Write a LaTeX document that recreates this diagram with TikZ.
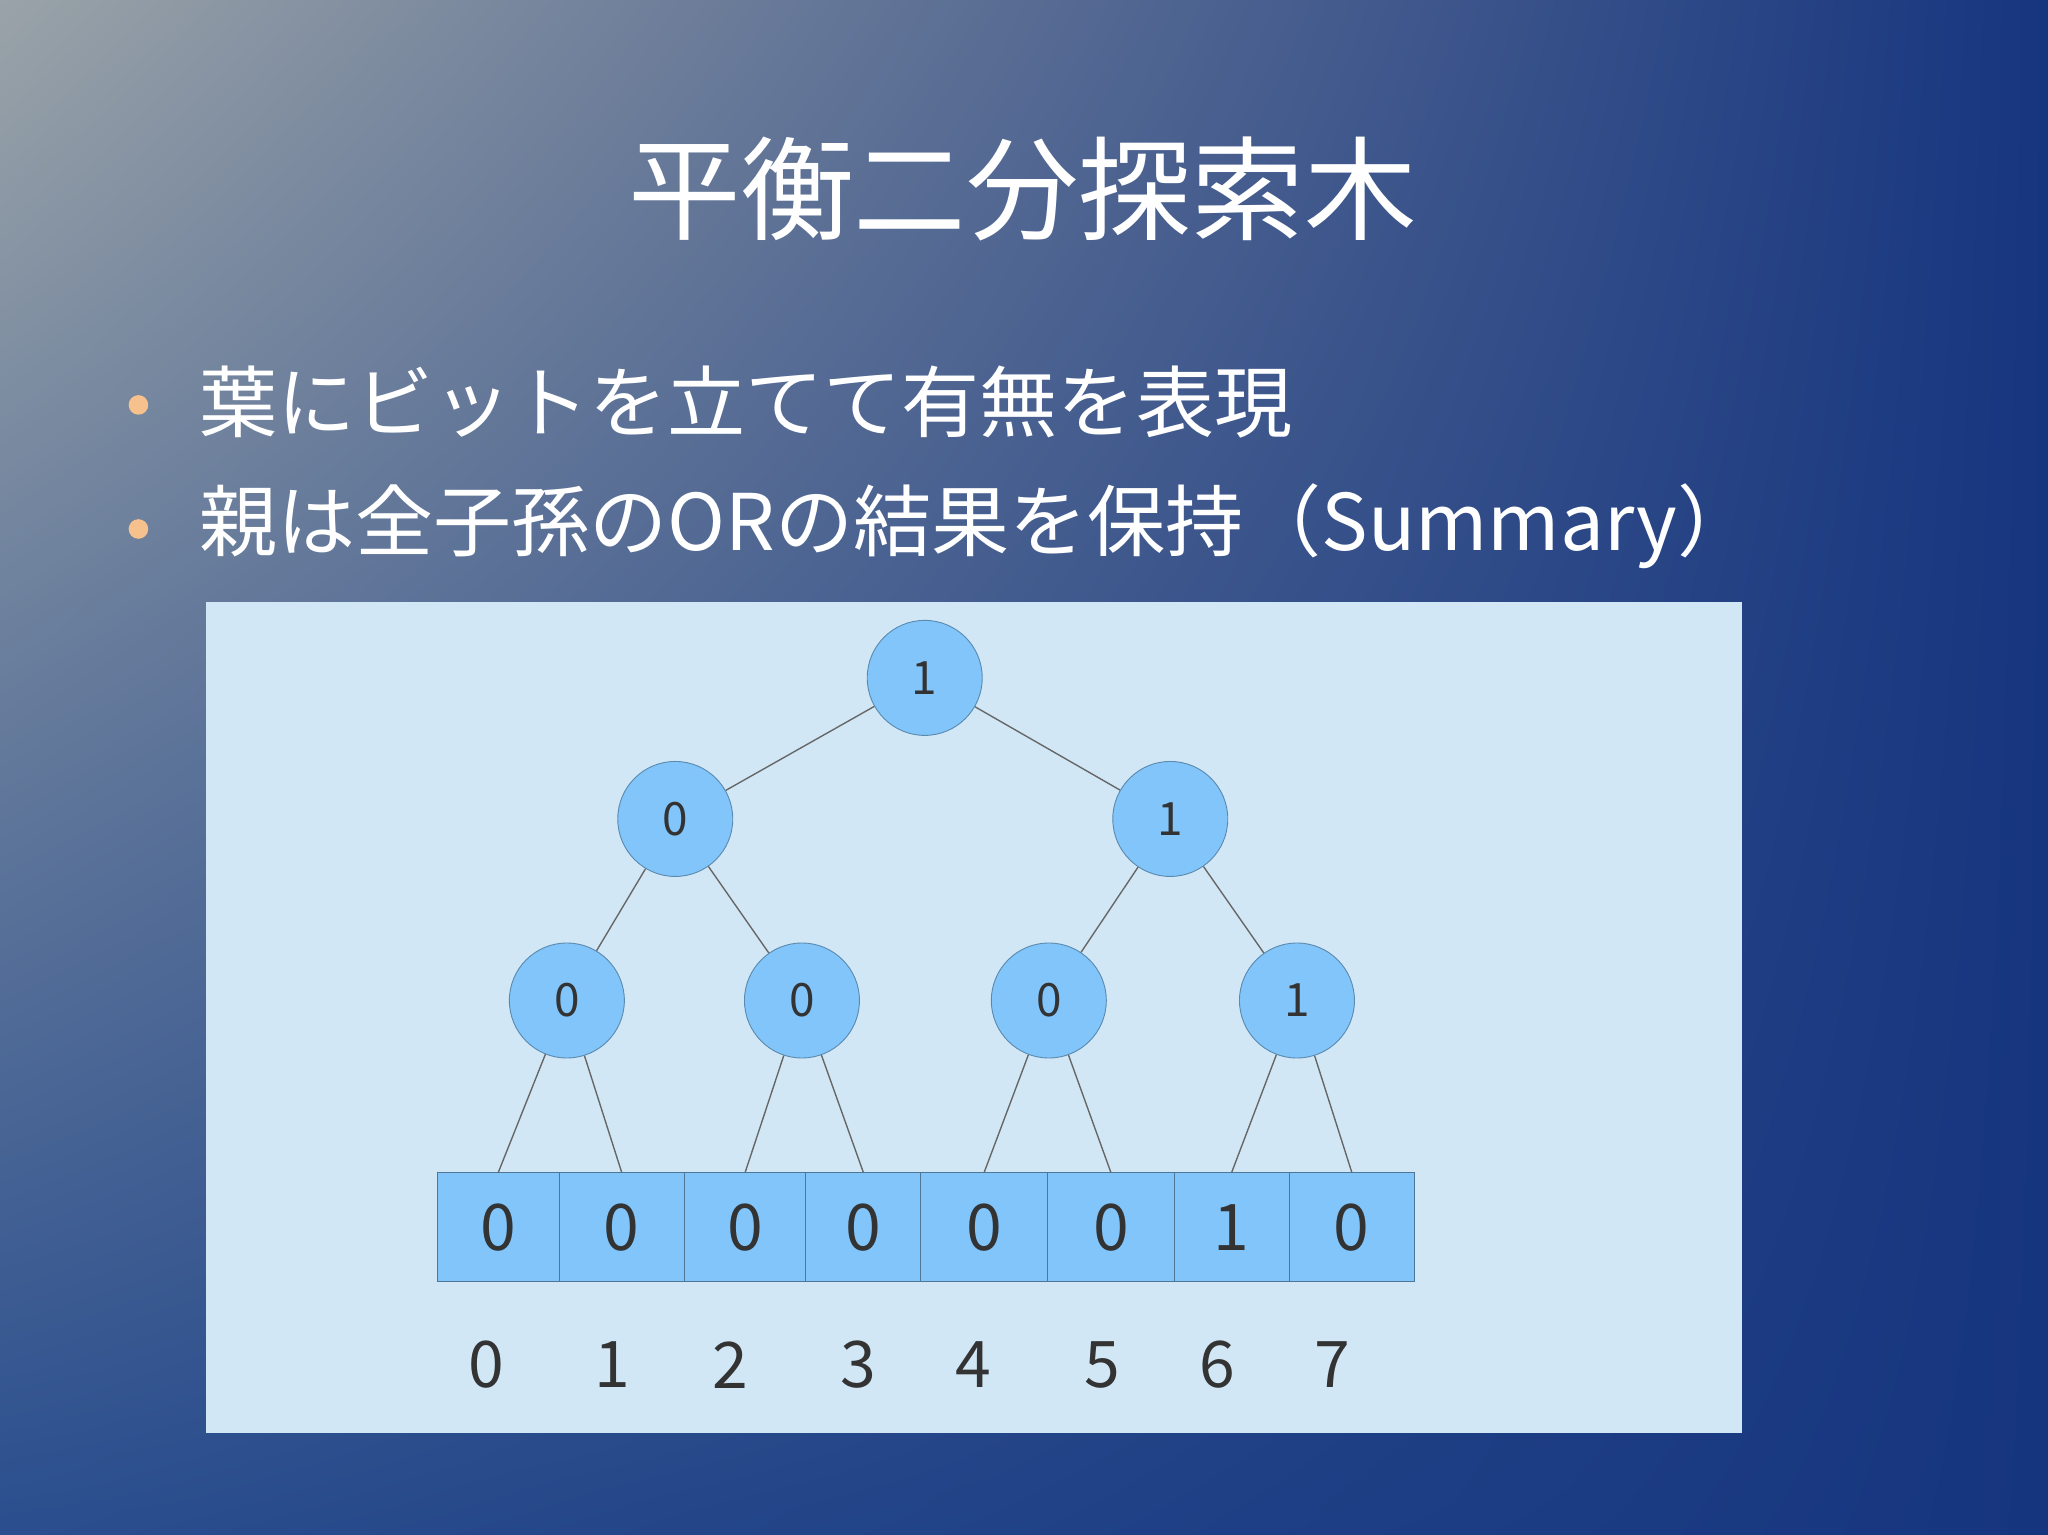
\documentclass[tikz,border=0pt]{standalone}
\usepackage{fontspec}
\usetikzlibrary{shadings}
\setmainfont{Noto Sans CJK JP}
\definecolor{bgA}{HTML}{9AA3A8}
\definecolor{bgB}{HTML}{2A4E8E}
\definecolor{bgC}{HTML}{16357F}
\definecolor{panel}{HTML}{D1E7F6}
\definecolor{nodefill}{HTML}{82C5FA}
\definecolor{bul}{HTML}{F6C18C}
\definecolor{txt}{HTML}{333333}
\begin{document}
\begin{tikzpicture}[x=0.01cm,y=-0.01cm,
  circ/.style={circle,fill=nodefill,draw=nodefill!70!black,line width=0.2pt,minimum size=0.88cm,inner sep=0pt,font=\fontsize{10}{12}\selectfont,text=txt},
  leaf/.style={rectangle,fill=nodefill,draw=nodefill!60!black,line width=0.2pt,minimum height=0.83cm,inner sep=0pt,font=\fontsize{14}{16}\selectfont,text=txt},
  idx/.style={font=\fontsize{14}{16}\selectfont,text=txt},
  edge/.style={draw=gray!80!black,line width=0.3pt},
  bullet/.style={circle,fill=bul,minimum size=0.15cm,inner sep=0pt}]
\shade[upper left=bgA,upper right=bgC,lower left=bgB,lower right=bgC] (0,0) rectangle (1568,1175);
\useasboundingbox (0,0) rectangle (1568,1175);
\node[text=white,font=\fontsize{24.5}{28}\selectfont] (title) at (783,145) {平衡二分探索木};
\node[bullet] (b1) at (106,310) {};
\node[bullet] (b2) at (106,405) {};
\node[anchor=west,text=white,font=\fontsize{17}{21}\selectfont] (t1) at (140,308) {葉にビットを立てて有無を表現};
\node[anchor=west,text=white,font=\fontsize{17}{21}\selectfont] (t2) at (140,403) {親は全子孫のORの結果を保持（Summary）};
\node[fill=panel,minimum width=11.75cm,minimum height=6.36cm,inner sep=0pt,anchor=north west] (panel) at (157,460) {};
\node[circ] (r) at (708,519) {1};
\node[circ] (a) at (517,627) {0};
\node[circ] (b) at (896,627) {1};
\node[circ] (c1) at (434,766) {0};
\node[circ] (c2) at (614,766) {0};
\node[circ] (c3) at (803,766) {0};
\node[circ] (c4) at (993,766) {1};
\node[leaf,minimum width=0.93cm] (l0) at (381.5,939.5) {0};
\node[leaf,minimum width=0.96cm] (l1) at (476,939.5) {0};
\node[leaf,minimum width=0.93cm] (l2) at (570.5,939.5) {0};
\node[leaf,minimum width=0.88cm] (l3) at (661,939.5) {0};
\node[leaf,minimum width=0.97cm] (l4) at (753.5,939.5) {0};
\node[leaf,minimum width=0.97cm] (l5) at (850.5,939.5) {0};
\node[leaf,minimum width=0.88cm] (l6) at (943,939.5) {1};
\node[leaf,minimum width=0.96cm] (l7) at (1035,939.5) {0};
\draw[edge] (r) -- (a);
\draw[edge] (r) -- (b);
\draw[edge] (a) -- (c1);
\draw[edge] (a) -- (c2);
\draw[edge] (b) -- (c3);
\draw[edge] (b) -- (c4);
\draw[edge] (c1) -- (l0.north);
\draw[edge] (c1) -- (l1.north);
\draw[edge] (c2) -- (l2.north);
\draw[edge] (c2) -- (l3.north);
\draw[edge] (c3) -- (l4.north);
\draw[edge] (c3) -- (l5.north);
\draw[edge] (c4) -- (l6.north);
\draw[edge] (c4) -- (l7.north);
\node[idx] (i0) at (372,1045) {0};
\node[idx] (i1) at (469,1045) {1};
\node[idx] (i2) at (559,1045) {2};
\node[idx] (i3) at (657,1045) {3};
\node[idx] (i4) at (745,1045) {4};
\node[idx] (i5) at (844,1045) {5};
\node[idx] (i6) at (932,1045) {6};
\node[idx] (i7) at (1020,1045) {7};
\end{tikzpicture}
\end{document}
